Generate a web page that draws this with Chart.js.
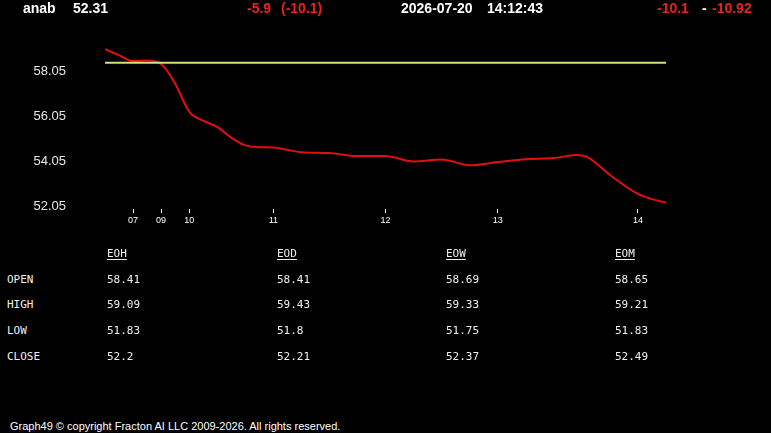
<!DOCTYPE html>
<html>
<head>
<meta charset="utf-8">
<script src="https://cdn.jsdelivr.net/npm/chart.js@4.4.1/dist/chart.umd.min.js"></script>
<style>
  html, body { margin: 0; padding: 0; background: #000; }
  body { width: 771px; height: 433px; position: relative; overflow: hidden; }
  #c { position: absolute; left: 0; top: 0; }
  .t { position: absolute; white-space: pre; }
  .hdr { font: bold 14px "Liberation Sans", Arial, sans-serif; line-height: 16px; color: #fff; }
  .red { color: #e8221c; }
  .mono { font: 11px "DejaVu Sans Mono", monospace; line-height: 13px; color: #f0f0f0; }
  .ul { text-decoration: underline; text-underline-offset: 2px; text-decoration-thickness: 1px; }
  .foot { font: 11px "Liberation Sans", Arial, sans-serif; line-height: 13px; color: #fff; }
</style>
</head>
<body>
<canvas id="c" width="771" height="256"></canvas>
<div id="texts"></div>
<script>
// ---- data ----
const symbol = 'anab';
const lastPrice = '52.31';
const change1 = '-5.9';
const change2 = '(-10.1)';
const dateText = '2026-07-20';
const timeText = '14:12:43';
const rangeA = '-10.1';
const rangeB = '-10.92';

const xSlots      = [0, 0.5, 1, 1.5, 2, 2.5, 3, 3.5, 4, 4.5, 5, 5.5, 6, 7, 8, 9, 10, 11, 12, 13, 14, 15, 16, 16.8, 17.2, 18, 19, 19.5, 20];
const closeValues = [59.01, 58.75, 58.49, 58.51, 58.36, 57.5, 56.25, 55.85, 55.58, 55.1, 54.76, 54.68, 54.66, 54.46, 54.42, 54.29, 54.29, 54.05, 54.13, 53.88, 54.02, 54.15, 54.2, 54.33, 54.24, 53.45, 52.61, 52.38, 52.23];
const openValue = 58.41;

const xTickSlots  = [1, 2, 3, 6, 10, 14, 19];
const xTickLabels = ['07', '09', '10', '11', '12', '13', '14'];
const yTickValues = [52.05, 54.05, 56.05, 58.05];

const tableCols  = ['EOH', 'EOD', 'EOW', 'EOM'];
const rowLabels  = ['OPEN', 'HIGH', 'LOW', 'CLOSE'];
const eohValues  = ['58.41', '59.09', '51.83', '52.2'];
const eodValues  = ['58.41', '59.43', '51.8', '52.21'];
const eowValues  = ['58.69', '59.33', '51.75', '52.37'];
const eomValues  = ['58.65', '59.21', '51.83', '52.49'];
const footerText = 'Graph49 \u00A9 copyright Fracton AI LLC 2009-2026. All rights reserved.';

// ---- text layout ----
const T = document.getElementById('texts');
function addText(txt, cls, left, baseline, asc) {
  const d = document.createElement('div');
  d.className = 't ' + cls;
  d.textContent = txt;
  d.style.left = left + 'px';
  d.style.top = (baseline - asc) + 'px';
  T.appendChild(d);
  return d;
}
const HA = 12.9;
addText(symbol, 'hdr', 23, 13.3, HA);
addText(lastPrice, 'hdr', 73, 13.3, HA);
addText(change1, 'hdr red', 247, 13.3, HA);
addText(change2, 'hdr red', 281, 13.3, HA);
addText(dateText, 'hdr', 401, 13.3, HA);
addText(timeText, 'hdr', 487, 13.3, HA);
addText(rangeA, 'hdr red', 657, 13.3, HA);
addText('-', 'hdr', 702, 13.3, HA);
addText(rangeB, 'hdr red', 712, 13.3, HA);

const MA = 10.3;
const colX = [107, 277, 446, 615];
const rowBase = [283, 308, 334, 360];
const colValues = [eohValues, eodValues, eowValues, eomValues];
tableCols.forEach((c, i) => addText(c, 'mono ul', colX[i], 257, MA));
rowLabels.forEach((r, j) => {
  addText(r, 'mono', 7, rowBase[j], MA);
  colValues.forEach((vals, i) => addText(vals[j], 'mono', colX[i], rowBase[j], MA));
});
addText(footerText, 'foot', 10, 430, 10.3);

// ---- chart ----
const chart = new Chart(document.getElementById('c'), {
  type: 'line',
  data: {
    datasets: [
      {
        data: [{ x: 0, y: openValue }, { x: 20, y: openValue }],
        borderColor: '#d6df7c',
        borderWidth: 2,
        pointRadius: 0,
        tension: 0
      },
      {
        data: xSlots.map((x, i) => ({ x, y: closeValues[i] })),
        borderColor: '#e30f0f',
        borderWidth: 2,
        pointRadius: 0,
        cubicInterpolationMode: 'monotone'
      }
    ]
  },
  options: {
    responsive: false,
    animation: false,
    events: [],
    layout: { padding: { left: 0, right: 105, top: 35.2, bottom: 0 } },
    plugins: { legend: { display: false }, tooltip: { enabled: false } },
    scales: {
      x: {
        type: 'linear',
        min: 0,
        max: 20,
        border: { display: false },
        grid: { drawOnChartArea: false, drawTicks: true, tickLength: 4, color: '#ffffff', lineWidth: 1 },
        ticks: {
          color: '#ffffff',
          font: { family: 'Liberation Sans', size: 9 },
          padding: 2,
          maxRotation: 0,
          autoSkip: false,
          callback: (v) => { const k = xTickSlots.indexOf(v); return k >= 0 ? xTickLabels[k] : ''; }
        },
        afterBuildTicks: (s) => { s.ticks = xTickSlots.map(v => ({ value: v })); },
        afterFit: (s) => { s.height = 31; }
      },
      y: {
        min: 51.935,
        max: 59.12,
        border: { display: false },
        grid: { display: false, drawTicks: false },
        ticks: {
          color: '#e8e8e8',
          font: { family: 'Liberation Sans', size: 13 },
          padding: 39,
          callback: (v) => v.toFixed(2)
        },
        afterBuildTicks: (s) => { s.ticks = yTickValues.map(v => ({ value: v })); },
        afterFit: (s) => { s.width = 105; }
      }
    }
  }
});
</script>
</body>
</html>
